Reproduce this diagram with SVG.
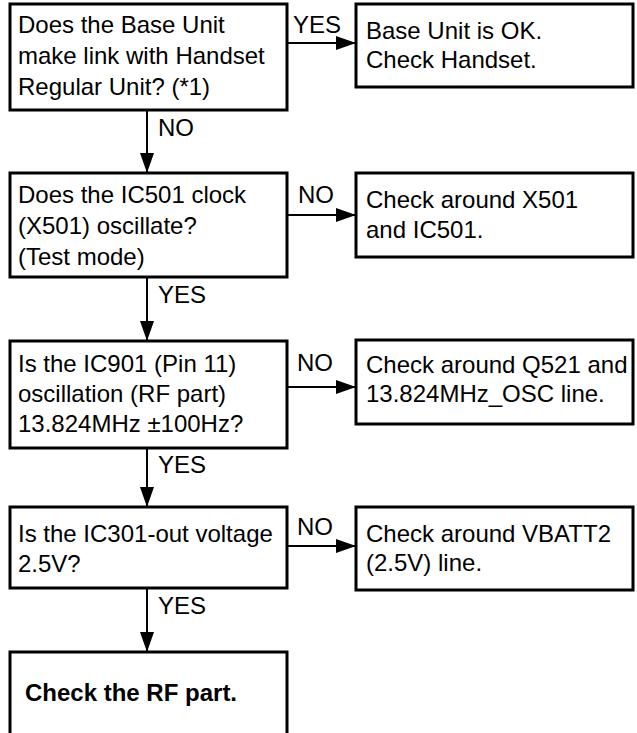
<svg xmlns="http://www.w3.org/2000/svg" width="637" height="733" viewBox="0 0 637 733">
<style>
.box{fill:#fff;stroke:#000;stroke-width:3}
.t{font-family:"Liberation Sans",Arial,sans-serif;font-size:24px;fill:#000}
.b{font-weight:bold}
.c{stroke:#000;stroke-width:2;fill:none}
</style>
<defs>
<marker id="ah" markerUnits="userSpaceOnUse" markerWidth="22" markerHeight="16" refX="20" refY="7" orient="auto" viewBox="0 0 22 16">
<path d="M0,0 L20,7 L0,14 z" fill="#000"/>
</marker>
</defs>
<rect width="637" height="733" fill="#fff"/>
<g id="connectors">
<line class="c" x1="287" y1="43" x2="356" y2="43" marker-end="url(#ah)"/>
<line class="c" x1="147" y1="110" x2="147" y2="173" marker-end="url(#ah)"/>
<line class="c" x1="287" y1="215" x2="356" y2="215" marker-end="url(#ah)"/>
<line class="c" x1="147" y1="277" x2="147" y2="341" marker-end="url(#ah)"/>
<line class="c" x1="287" y1="387" x2="356" y2="387" marker-end="url(#ah)"/>
<line class="c" x1="147" y1="448" x2="147" y2="507" marker-end="url(#ah)"/>
<line class="c" x1="287" y1="546" x2="356" y2="546" marker-end="url(#ah)"/>
<line class="c" x1="147" y1="588" x2="147" y2="652" marker-end="url(#ah)"/>
<text class="t" x="293" y="33">YES</text>
<text class="t" x="158" y="136">NO</text>
<text class="t" x="298" y="203">NO</text>
<text class="t" x="158" y="303">YES</text>
<text class="t" x="297" y="371">NO</text>
<text class="t" x="158" y="473">YES</text>
<text class="t" x="297" y="535">NO</text>
<text class="t" x="158" y="614">YES</text>
</g>
<g id="q1">
<rect class="box" x="10" y="4" width="277" height="106"/>
<text class="t" x="18" y="33">Does the Base Unit</text>
<text class="t" x="18" y="64">make link with Handset</text>
<text class="t" x="18" y="95">Regular Unit? (*1)</text>
</g>
<g id="r1">
<rect class="box" x="356" y="4" width="277" height="83"/>
<text class="t" x="366" y="39">Base Unit is OK.</text>
<text class="t" x="366" y="68">Check Handset.</text>
</g>
<g id="q2">
<rect class="box" x="10" y="173" width="277" height="104"/>
<text class="t" x="18" y="203">Does the IC501 clock</text>
<text class="t" x="18" y="234">(X501) oscillate?</text>
<text class="t" x="18" y="265">(Test mode)</text>
</g>
<g id="r2">
<rect class="box" x="356" y="173" width="277" height="84"/>
<text class="t" x="366" y="208">Check around X501</text>
<text class="t" x="366" y="238">and IC501.</text>
</g>
<g id="q3">
<rect class="box" x="10" y="341" width="277" height="107"/>
<text class="t" x="18" y="372">Is the IC901 (Pin 11)</text>
<text class="t" x="18" y="402">oscillation (RF part)</text>
<text class="t" x="18" y="432">13.824MHz ±100Hz?</text>
</g>
<g id="r3">
<rect class="box" x="356" y="340" width="277" height="84"/>
<text class="t" x="366" y="373">Check around Q521 and</text>
<text class="t" x="366" y="402">13.824MHz_OSC line.</text>
</g>
<g id="q4">
<rect class="box" x="10" y="507" width="277" height="81"/>
<text class="t" x="18" y="542">Is the IC301-out voltage</text>
<text class="t" x="18" y="572">2.5V?</text>
</g>
<g id="r4">
<rect class="box" x="356" y="507" width="277" height="83"/>
<text class="t" x="366" y="542">Check around VBATT2</text>
<text class="t" x="366" y="571">(2.5V) line.</text>
</g>
<g id="end">
<rect class="box" x="10" y="652" width="277" height="100"/>
<text class="t b" x="25" y="701">Check the RF part.</text>
</g>
</svg>
